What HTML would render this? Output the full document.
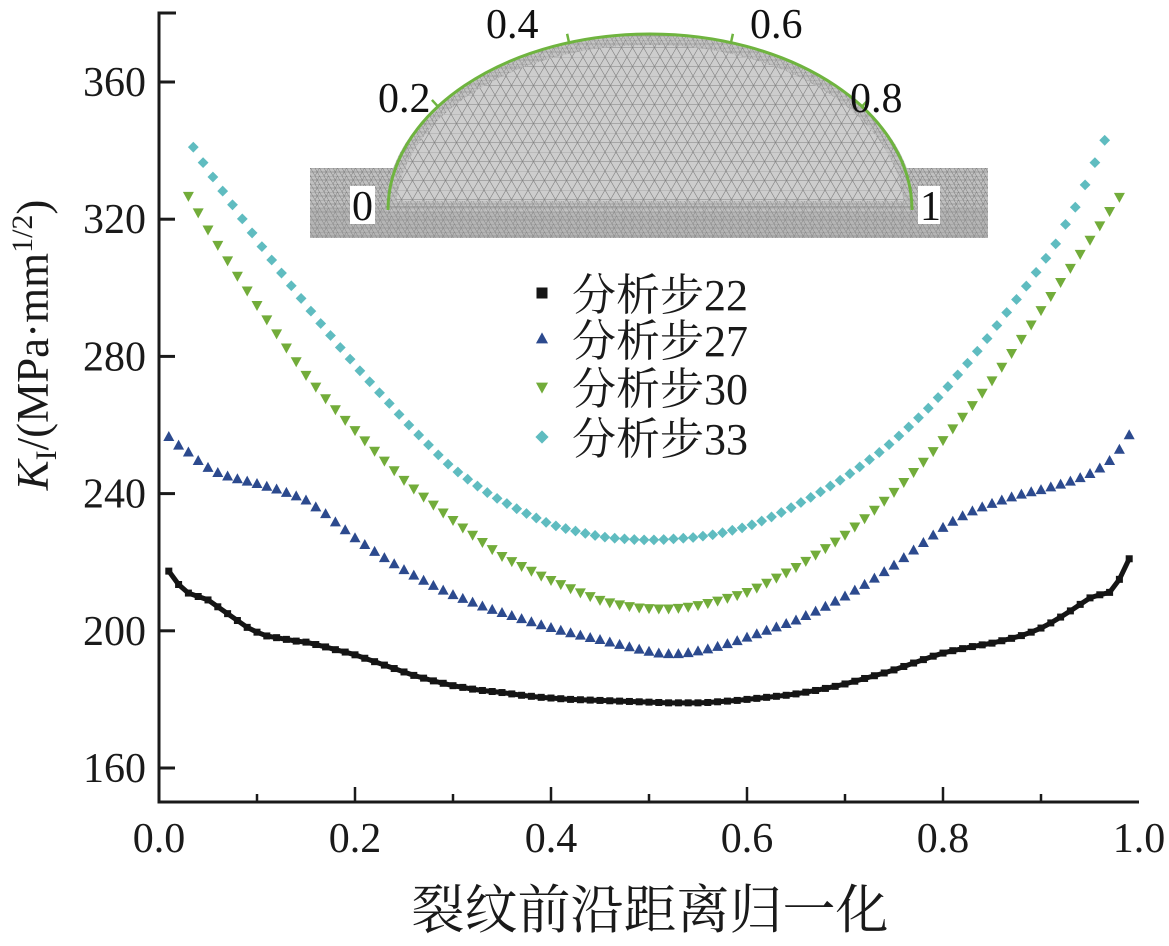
<!DOCTYPE html>
<html><head><meta charset="utf-8"><style>
html,body{margin:0;padding:0;background:#fff;}
svg text{font-family:"Liberation Serif","Noto Serif CJK SC",serif;}
</style></head><body>
<svg id="chart" width="1169" height="941" viewBox="0 0 1169 941" xmlns="http://www.w3.org/2000/svg">
<defs>
<pattern id="mesh" width="22" height="19" patternUnits="userSpaceOnUse">
<rect width="22" height="19" fill="#cdcdcd"/>
<path d="M0 0L22 0M0 9.5L22 9.5M0 0L11 19M11 0L22 19M11 0L0 19M22 0L11 19" stroke="#808080" stroke-width="0.6" fill="none"/>
</pattern>
<pattern id="meshfine" width="9" height="8" patternUnits="userSpaceOnUse">
<rect width="9" height="8" fill="#c0c0c0"/>
<path d="M0 0L9 0M0 4L9 4M0 0L4.5 8M4.5 0L9 8M4.5 0L0 8" stroke="#777" stroke-width="0.5" fill="none"/>
</pattern>
<clipPath id="domeClip"><path d="M385 212 A265 178 0 0 1 915 212 Z"/></clipPath>
</defs>
<g id="inset">
<rect x="310" y="168" width="678" height="70" fill="url(#meshfine)"/>
<rect x="310" y="207" width="678" height="31" fill="#9a9a9a" opacity="0.3"/>
<path d="M385 212 A265 178 0 0 1 915 212 Z" fill="url(#mesh)"/>
<path d="M385 212 A265 178 0 0 1 915 212 Z" fill="none" stroke="url(#meshfine)" stroke-width="22" clip-path="url(#domeClip)" opacity="0.8"/>
<line x1="385" y1="207" x2="915" y2="207" stroke="#888" stroke-width="1"/>
<path d="M388 210 A262 176 0 0 1 912 210" fill="none" stroke="#6fb43f" stroke-width="3"/>
<g id="insetTicks" stroke="#6fb43f" stroke-width="2.5"></g>
<rect x="350" y="186" width="25" height="38" fill="#fff"/>
<rect x="918" y="186" width="22" height="38" fill="#fff"/>
<g font-size="42" fill="#111">
<text x="352" y="220">0</text>
<text x="920" y="220">1</text>
<text x="378" y="112">0.2</text>
<text x="486" y="38">0.4</text>
<text x="750" y="38">0.6</text>
<text x="850" y="112">0.8</text>
</g>
</g>
<g id="axes"></g>
<g id="series"></g>
<g id="legend"></g>
<text x="650" y="928" font-size="53" text-anchor="middle" fill="#1a1a1a">裂纹前沿距离归一化</text>
<text transform="translate(48,345) rotate(-90)" font-size="45" text-anchor="middle" fill="#1a1a1a"><tspan font-style="italic">K</tspan><tspan font-size="30" dy="8">I</tspan><tspan dy="-8">/(MPa·mm</tspan><tspan font-size="30" dy="-16">1/2</tspan><tspan dy="16">)</tspan></text>
</svg>
<script>
const xTicks = [0.0, 0.2, 0.4, 0.6, 0.8, 1.0];
const xTickLabels = ["0.0", "0.2", "0.4", "0.6", "0.8", "1.0"];
const yTicks = [160, 200, 240, 280, 320, 360];
const yTickLabels = ["160", "200", "240", "280", "320", "360"];
const seriesNames = ["分析步22", "分析步27", "分析步30", "分析步33"];
const step22Start = 0.01;
const step22 = [217.4,213.5,211,210,209,207,205,203,201,199.6,198.5,198,197.5,197,196.7,196,195.3,194.5,193.8,193,192,191,190,189,188,187,186.2,185.4,184.7,184,183.5,183,182.6,182.3,182,181.6,181.2,180.9,180.6,180.4,180.2,180,179.9,179.8,179.7,179.6,179.5,179.4,179.3,179.2,179.1,179,179,179,179,179.1,179.3,179.5,179.7,180,180.3,180.6,180.9,181.2,181.6,182.1,182.6,183.2,183.8,184.5,185.3,186.1,186.9,187.7,188.6,189.6,190.6,191.6,192.6,193.5,194.2,194.8,195.4,195.9,196.4,197.1,197.8,198.6,199.6,200.8,202.3,204,205.8,207.7,209.6,210.5,211.2,215,221];
const step27Start = 0.01;
const step27 = [256.5,254,252,249.5,247.5,246,245,244.2,243.5,242.8,242,241.2,240.2,239.2,238,236,234,231.6,229.3,227,225,223,221.2,219.4,217.7,216.1,214.6,213.1,211.7,210.4,209.3,208.2,207.1,206.1,205.2,204.3,203.4,202.5,201.6,200.8,200,199.3,198.6,197.9,197.3,196.6,195.9,195.2,194.5,193.9,193.4,193.2,193.2,193.5,194,194.6,195.3,196.1,197,198,199,200,201,202,203,204.3,205.6,207,208.5,210,211.7,213.4,215.2,217.1,219,221.2,223.4,225.6,227.8,230,231.8,233.4,234.8,236,237,238,238.9,239.7,240.4,241,241.8,242.6,243.5,244.5,245.7,247.3,249.5,252.8,257];
const step30Start = 0.03;
const step30 = [326.8,322,317,312.5,308,303.5,299.2,295,290.8,286.7,282.6,278.6,274.6,271.2,267.8,264.6,261.5,258.5,255.5,252.5,249.6,246.8,244,241.5,239.1,236.8,234.5,232.3,230.1,228,225.9,223.8,221.8,220.3,218.9,217.5,216.1,214.8,213.6,212.4,211.2,210.1,209,208.3,207.7,207.2,206.8,206.6,206.5,206.5,206.7,207,207.5,208.1,208.8,209.6,210.4,211.3,212.6,214,215.5,217,218.6,220.4,222.2,224.1,226,228,230.4,232.8,235.3,237.9,240.5,243.4,246.3,249.3,252.4,255.6,259,262.4,265.8,269.4,273,277,281,285.1,289.3,293.5,297.6,301.7,305.8,309.9,314,318.2,322.4,326.5];
const step33Start = 0.035;
const step33 = [341,336.5,332.3,328.2,324.2,320.1,316,312,308.1,304.3,300.6,296.9,293.2,289.6,286.1,282.6,279.2,275.8,272.6,269.4,266.3,263.1,260,257.1,254.2,251.3,248.6,246.3,244.2,242.2,240.3,238.6,237.1,235.6,234.2,232.9,231.6,230.6,229.8,229.1,228.4,227.8,227.3,227,226.8,226.6,226.5,226.5,226.6,226.8,227,227.2,227.6,228,228.6,229.3,230,230.9,232,233.2,234.5,235.9,237.4,238.9,240.5,242.2,243.9,245.8,247.8,249.9,252,254.3,256.8,259.4,262.1,264.9,268,271.2,274.6,278,281.5,285.2,289,292.8,296.6,300.5,304.5,308.6,312.8,318.5,323.5,330,336.5,343];
const xStep = 0.01;
const insetTicks = [0.2, 0.4, 0.6, 0.8];

const NS = "http://www.w3.org/2000/svg";
const X0 = 159, X1 = 1139, YB = 802, Y160 = 768, Y360 = 82;
function xs(v){ return X0 + (X1 - X0) * v; }
function ys(v){ return Y160 + (Y360 - Y160) * (v - 160) / 200; }
function mk(tag, attrs, parent){ const e = document.createElementNS(NS, tag); for (const k in attrs) e.setAttribute(k, attrs[k]); parent.appendChild(e); return e; }

const axes = document.getElementById('axes');
let a = mk('path', {d:`M${X0+17} 13 L${X0} 13 L${X0} ${YB} L${X1} ${YB}`, fill:'none', stroke:'#1a1a1a', 'stroke-width':3}, axes);


yTicks.forEach((t, i) => {
  const y = ys(t);
  const l = mk('line', {x1:X0, x2:X0+16, y1:y, y2:y, stroke:'#1a1a1a', 'stroke-width':3}, axes);
  
  
  const tx = mk('text', {x:X0-13, y:y+14, 'font-size':42, 'text-anchor':'end', fill:'#1a1a1a'}, axes);
  tx.textContent = yTickLabels[i];
  
  
});
for (let k = 1; k < 10; k++) {
  const v = k / 10;
  const major = k % 2 === 0;
  const l = mk('line', {x1:xs(v), x2:xs(v), y1:YB, y2:YB-(major?15:8), stroke:'#1a1a1a', 'stroke-width':2.5}, axes);
  
  
}
xTicks.forEach((t, i) => {
  const tx = mk('text', {x:xs(t), y:YB+50, 'font-size':42, 'text-anchor':'middle', fill:'#1a1a1a'}, axes);
  tx.textContent = xTickLabels[i];
  
  
});

function marker(g, type, cx, cy, color, s){
  let e;
  if (type === 'sq') e = mk('rect', {x:cx-s/2, y:cy-s/2, width:s, height:s, fill:color}, g);
  else if (type === 'up') e = mk('path', {d:`M${cx} ${cy-s*0.6} L${cx+s*0.55} ${cy+s*0.4} L${cx-s*0.55} ${cy+s*0.4} Z`, fill:color}, g);
  else if (type === 'down') e = mk('path', {d:`M${cx} ${cy+s*0.6} L${cx+s*0.55} ${cy-s*0.4} L${cx-s*0.55} ${cy-s*0.4} Z`, fill:color}, g);
  else e = mk('path', {d:`M${cx} ${cy-s*0.6} L${cx+s*0.6} ${cy} L${cx} ${cy+s*0.6} L${cx-s*0.6} ${cy} Z`, fill:color}, g);
  return e;
}
const seriesG = document.getElementById('series');
const defs = [
  {vals:step22, start:step22Start, type:'sq', color:'#151515', s:7, name:'series-step-22'},
  {vals:step27, start:step27Start, type:'up', color:'#2c4a8e', s:10, name:'series-step-27'},
  {vals:step30, start:step30Start, type:'down', color:'#72ac3a', s:10, name:'series-step-30'},
  {vals:step33, start:step33Start, type:'dia', color:'#5fbcc0', s:9, name:'series-step-33'}
];
defs.forEach(d => {
  const g = mk('g', {}, seriesG);
  
  
  if (d.type === 'sq') {
    const pts = d.vals.map((v, i) => `${xs(d.start + i*xStep)},${ys(v)}`).join(' ');
    const pl = mk('polyline', {points:pts, fill:'none', stroke:d.color, 'stroke-width':5}, g);
    
    
  }
  d.vals.forEach((v, i) => {
    const m = marker(g, d.type, xs(d.start + i*xStep), ys(v), d.color, d.s);
    
    
  });
});

const legend = document.getElementById('legend');
const legY = [295, 341, 389, 439];
seriesNames.forEach((n, i) => {
  const g = mk('g', {}, legend);
  
  
  marker(g, defs[i].type, 542, legY[i] - 2, defs[i].color, 11);
  const t = mk('text', {x:572, y:legY[i]+15, 'font-size':44, fill:'#1a1a1a'}, g);
  t.textContent = n;
});

const it = document.getElementById('insetTicks');
insetTicks.forEach(p => {
  const th = Math.PI * (1 - p);
  const cx = 650 + 262 * Math.cos(th), cy = 210 - 176 * Math.sin(th);
  const nx = Math.cos(th) / 262, ny = -Math.sin(th) / 176;
  const L = Math.hypot(nx, ny);
  const l = mk('line', {x1:cx, y1:cy, x2:cx + 9*nx/L, y2:cy + 9*ny/L}, it);
  
  
});
</script>
</body></html>
